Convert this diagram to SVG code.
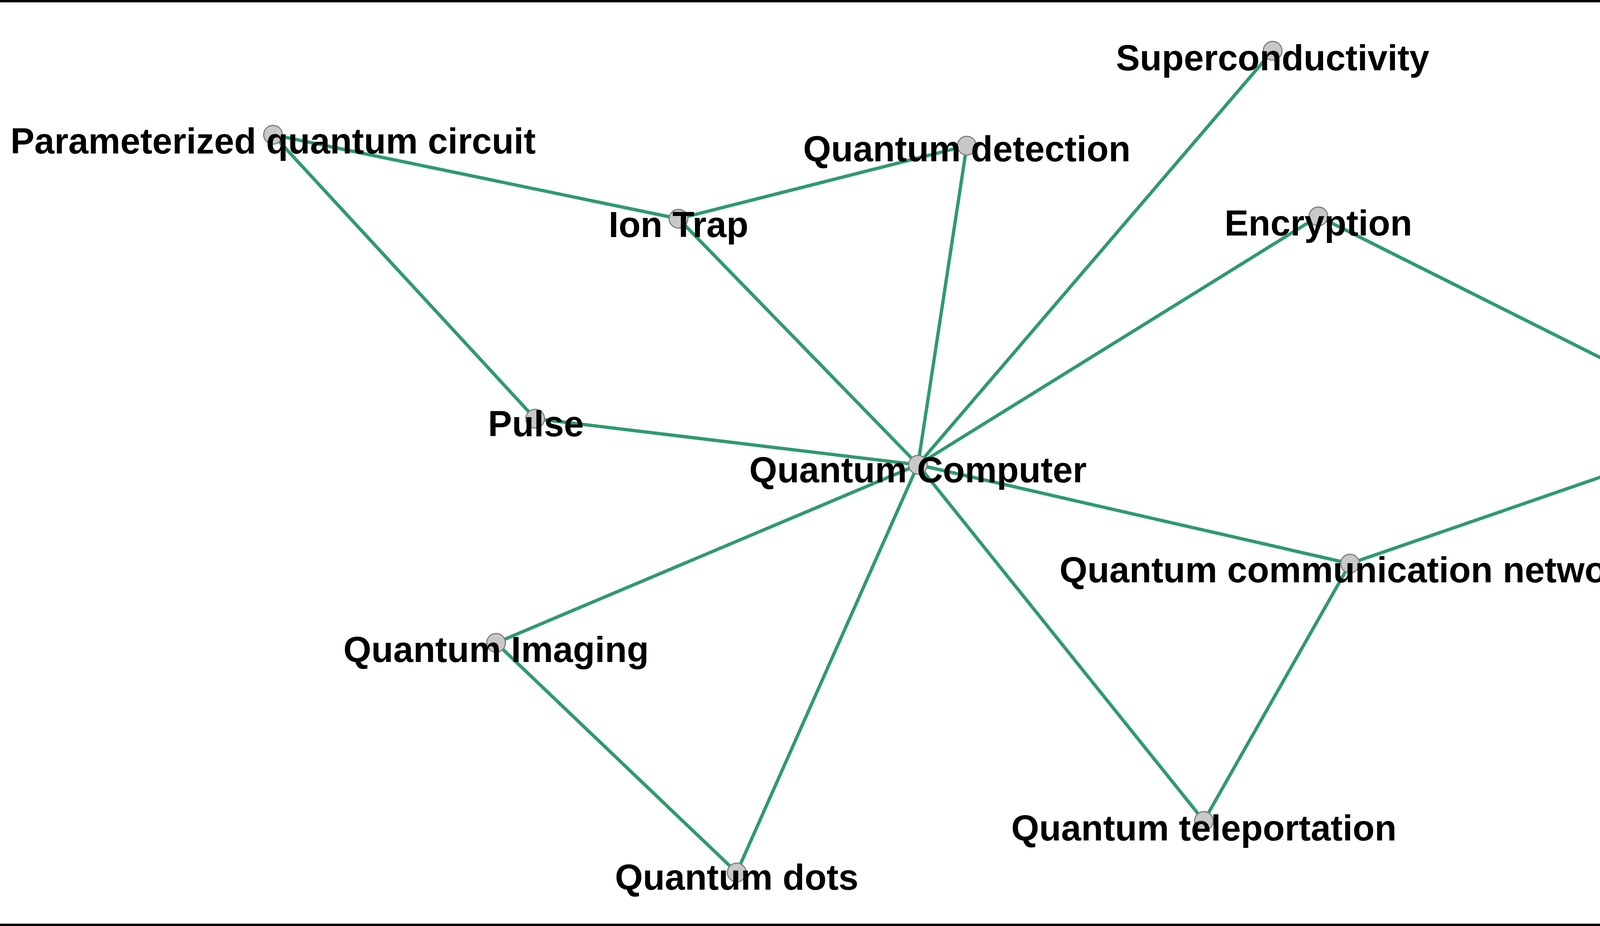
<svg xmlns="http://www.w3.org/2000/svg" width="4720" height="2371" viewBox="0 0 4720 2371">
<style>
.edge{stroke:#2f9a6d;stroke-width:8.5;fill:none;stroke-linecap:round}
.node circle{fill:#c8c8c8;stroke:#808080;stroke-width:3}
.node text{font-family:"Liberation Sans",Arial,sans-serif;font-weight:bold;font-size:92px;fill:#000;text-anchor:middle}
</style>
<rect x="0" y="0" width="4720" height="2371" fill="#ffffff"/>
<g id="border" stroke="#000" stroke-width="6">
<line x1="0" y1="3" x2="4720" y2="3"/>
<line x1="4717" y1="0" x2="4717" y2="2371"/>
<line x1="0" y1="2368" x2="4720" y2="2368"/>
</g>
<g id="connectors">
<line class="edge" x1="699" y1="345" x2="1737" y2="560"/>
<line class="edge" x1="699" y1="345" x2="1370" y2="1072"/>
<line class="edge" x1="1737" y1="560" x2="2475" y2="373"/>
<line class="edge" x1="1737" y1="560" x2="2350" y2="1190"/>
<line class="edge" x1="2475" y1="373" x2="2350" y2="1190"/>
<line class="edge" x1="3258" y1="130" x2="2350" y2="1190"/>
<line class="edge" x1="3375" y1="554" x2="2350" y2="1190"/>
<line class="edge" x1="3375" y1="554" x2="4459" y2="1097"/>
<line class="edge" x1="1370" y1="1072" x2="2350" y2="1190"/>
<line class="edge" x1="2350" y1="1190" x2="3456" y2="1443"/>
<line class="edge" x1="4459" y1="1097" x2="3456" y2="1443"/>
<line class="edge" x1="2350" y1="1190" x2="1270" y2="1646"/>
<line class="edge" x1="2350" y1="1190" x2="1886" y2="2234"/>
<line class="edge" x1="2350" y1="1190" x2="3082" y2="2102"/>
<line class="edge" x1="3456" y1="1443" x2="3082" y2="2102"/>
<line class="edge" x1="1270" y1="1646" x2="1886" y2="2234"/>
</g>
<g id="node-parameterized" class="node"><circle cx="699" cy="345" r="24"/><text x="699" y="393">Parameterized quantum circuit</text></g>
<g id="node-iontrap" class="node"><circle cx="1737" cy="560" r="24"/><text x="1737" y="607">Ion Trap</text></g>
<g id="node-detection" class="node"><circle cx="2475" cy="373" r="24"/><text x="2475" y="413">Quantum detection</text></g>
<g id="node-superconductivity" class="node"><circle cx="3258" cy="130" r="24"/><text x="3258" y="180">Superconductivity</text></g>
<g id="node-encryption" class="node"><circle cx="3375" cy="554" r="24"/><text x="3375" y="603">Encryption</text></g>
<g id="node-blockchain" class="node"><circle cx="4459" cy="1097" r="24"/><text x="4459" y="1133">Block Chain</text></g>
<g id="node-pulse" class="node"><circle cx="1370" cy="1072" r="24"/><text x="1372" y="1117">Pulse</text></g>
<g id="node-computer" class="node"><circle cx="2350" cy="1190" r="24"/><text x="2350" y="1235">Quantum Computer</text></g>
<g id="node-network" class="node"><circle cx="3456" cy="1443" r="24"/><text x="3456" y="1491">Quantum communication network</text></g>
<g id="node-imaging" class="node"><circle cx="1270" cy="1646" r="24"/><text x="1270" y="1695">Quantum Imaging</text></g>
<g id="node-teleportation" class="node"><circle cx="3082" cy="2102" r="24"/><text x="3082" y="2152">Quantum teleportation</text></g>
<g id="node-dots" class="node"><circle cx="1886" cy="2234" r="24"/><text x="1886" y="2278">Quantum dots</text></g>
</svg>
